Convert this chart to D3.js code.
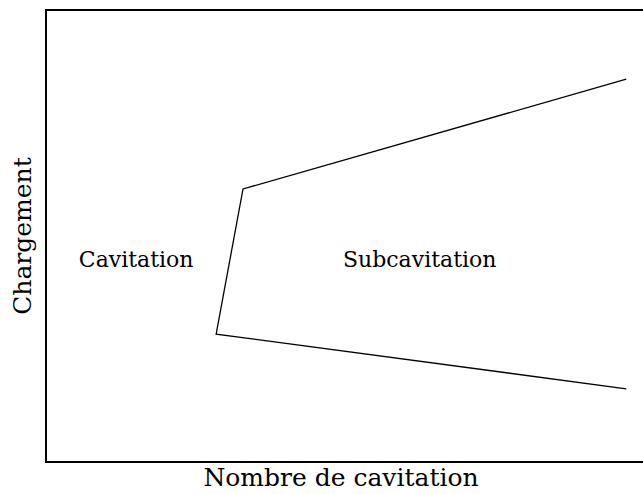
<!DOCTYPE html>
<html>
<head>
<meta charset="utf-8">
<script src="https://cdn.jsdelivr.net/npm/d3@7"></script>
<style>
  html, body { margin: 0; background: #fff; overflow: hidden; }
  svg { display: block; }
  svg text { font-family: "DejaVu Serif", serif; fill: #000; }
</style>
</head>
<body>
<div id="chart"></div>
<script>
// boundary between the two regimes (arbitrary units)
var boundaryX = [9.72, 3.30, 2.85, 9.72],
    boundaryY = [8.47, 6.04, 2.83, 1.62];

var regionNames = ["Cavitation", "Subcavitation"],
    regionX = [1.51, 6.26],
    regionY = [4.31, 4.31];

var xLabel = "Nombre de cavitation",
    yLabel = "Chargement";

var width = 643,
    height = 494,
    // right edge of the frame falls just outside the picture
    margin = {top: 10, right: -5, bottom: 32, left: 46},
    chartWidth = width - margin.left - margin.right,
    chartHeight = height - margin.top - margin.bottom;

var svg = d3.select("#chart").append("svg")
    .attr("width", width)
    .attr("height", height);

var chart = svg.append("g")
    .attr("transform", "translate(" + margin.left + "," + margin.top + ")");

// keep the data scale on the visible 597px so the line ends stay put
var x = d3.scaleLinear().domain([0, 10]).range([0, 597]);
var y = d3.scaleLinear().domain([0, 10]).range([chartHeight, 0]);

// frame
chart.append("rect")
    .attr("x", 0)
    .attr("y", 0)
    .attr("width", chartWidth)
    .attr("height", chartHeight)
    .attr("fill", "none")
    .attr("stroke", "#000")
    .attr("stroke-width", 2);

var pts = boundaryX.map(function(d, i) { return [d, boundaryY[i]]; });

var line = d3.line()
    .x(function(d) { return x(d[0]); })
    .y(function(d) { return y(d[1]); });

chart.append("path")
    .datum(pts)
    .attr("d", line)
    .attr("fill", "none")
    .attr("stroke", "#000")
    .attr("stroke-width", 1.3);

chart.selectAll("text.region")
    .data(regionNames)
    .enter().append("text")
    .attr("class", "region")
    .attr("x", function(d, i) { return x(regionX[i]); })
    .attr("y", function(d, i) { return y(regionY[i]); })
    .attr("text-anchor", "middle")
    .style("font-size", "22px")
    .text(function(d) { return d; });

svg.append("text")
    .attr("x", 341)
    .attr("y", 486)
    .attr("text-anchor", "middle")
    .style("font-size", "25px")
    .text(xLabel);

svg.append("text")
    .attr("transform", "translate(31,236) rotate(-90)")
    .attr("text-anchor", "middle")
    .style("font-size", "25px")
    .text(yLabel);
</script>
</body>
</html>
